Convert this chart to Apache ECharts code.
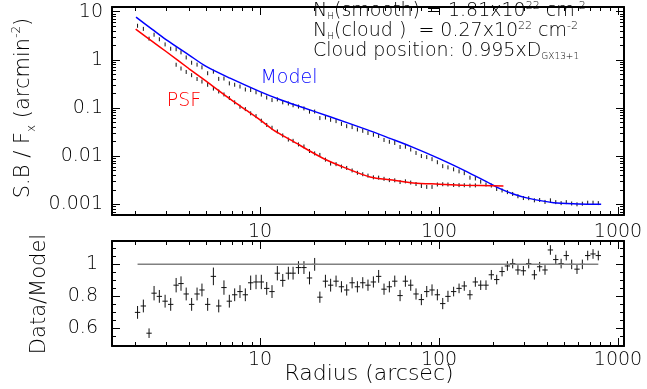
<!DOCTYPE html>
<html>
<head>
<meta charset="utf-8">
<script src="https://cdn.jsdelivr.net/npm/echarts@6/dist/echarts.min.js"></script>
<style>
  html, body { margin: 0; padding: 0; background: #fff; }
  #chart { width: 647px; height: 389px; }
</style>
</head>
<body>
<div id="chart"></div>
<script>
// radial bins (arcsec) and data/model ratio
var radius = [2.07, 2.23, 2.40, 2.56, 2.74, 2.95, 3.17, 3.40, 3.62, 3.87, 4.15, 4.45, 4.74, 5.10, 5.49, 5.88, 6.29, 6.74, 7.22, 7.73, 8.28, 8.87, 9.50, 10.17, 10.9, 11.67, 12.5,
  13.4, 14.4, 15.3, 16.4, 17.6, 18.9, 20.2, 21.6, 23.2, 24.8, 26.6, 28.5, 30.5, 32.7, 35.0, 37.5, 40.1, 43.0, 46.0, 49.3, 52.8, 56.6, 60.6, 64.9, 69.5, 74.4, 79.7, 85.4, 91.4, 97.9, 104.9, 112.2,
  120.7, 129.4, 138.4, 148.9, 159.6, 171, 183, 196, 210, 225, 241, 258, 276, 296, 317, 341, 365, 391, 419, 449, 481, 514, 551, 590, 632, 677, 725, 776];
var ratio = [0.70, 0.74, 0.57, 0.82, 0.80, 0.77, 0.75, 0.87, 0.88, 0.815, 0.75, 0.815, 0.84, 0.75, 0.925, 0.74, 0.855, 0.77, 0.81, 0.83, 0.81, 0.885, 0.89, 0.89, 0.85, 0.83, 0.945,
  0.90, 0.945, 0.945, 0.98, 0.98, 0.915, 1.0, 0.795, 0.895, 0.87, 0.895, 0.86, 0.84, 0.885, 0.86, 0.885, 0.87, 0.89, 0.925, 0.845, 0.86, 0.895, 0.805, 0.895, 0.87, 0.815, 0.78, 0.83, 0.84, 0.81, 0.755, 0.80,
  0.83, 0.85, 0.865, 0.81, 0.89, 0.87, 0.87, 0.935, 0.905, 0.955, 0.99, 1.005, 0.965, 0.96, 1.005, 0.935, 0.985, 0.965, 1.09, 1.03, 1.005, 1.055, 1.0, 0.97, 1.0, 1.055, 1.065, 1.055];
var ratioErr = [0.04, 0.04, 0.03, 0.045, 0.04, 0.04, 0.04, 0.045, 0.045, 0.04, 0.04, 0.04, 0.04, 0.04, 0.055, 0.04, 0.045, 0.04, 0.04, 0.04, 0.04, 0.045, 0.045, 0.045, 0.04, 0.04, 0.045,
  0.04, 0.04, 0.04, 0.04, 0.04, 0.04, 0.04, 0.035, 0.04, 0.04, 0.035, 0.035, 0.035, 0.035, 0.035, 0.035, 0.035, 0.035, 0.04, 0.035, 0.035, 0.035, 0.035, 0.035, 0.035, 0.035, 0.035, 0.035, 0.035, 0.035, 0.035, 0.035,
  0.03, 0.03, 0.03, 0.03, 0.03, 0.03, 0.03, 0.03, 0.03, 0.03, 0.03, 0.03, 0.03, 0.03, 0.03, 0.03, 0.03, 0.03, 0.03, 0.03, 0.03, 0.03, 0.03, 0.03, 0.03, 0.03, 0.03, 0.03];

// surface brightness of the source, same bins (upper panel dots)
var sbData = [5.1, 4.39, 2.75, 3.32, 2.67, 2.09, 1.70, 1.66, 1.43, 1.12, 0.87, 0.794, 0.698, 0.527, 0.568, 0.402, 0.409, 0.324, 0.304, 0.279, 0.242, 0.236, 0.212, 0.190, 0.165, 0.146, 0.151,
  0.131, 0.124, 0.114, 0.107, 0.098, 0.084, 0.0843, 0.0617, 0.0634, 0.0569, 0.0533, 0.0468, 0.0419, 0.0401, 0.0358, 0.0336, 0.0303, 0.0279, 0.0262, 0.0217, 0.0199, 0.0188, 0.0155, 0.0157, 0.01375, 0.01166, 0.01005, 0.00956, 0.00866, 0.00748, 0.0062, 0.00584,
  0.00533, 0.00484, 0.00444, 0.00357, 0.00344, 0.00295, 0.00258, 0.00245, 0.00208, 0.00194, 0.00179, 0.00164, 0.00147, 0.00135, 0.00134, 0.00121, 0.00123, 0.00112, 0.00121, 0.00111, 0.00106, 0.00111, 0.00104, 0.001, 0.00103, 0.00108, 0.00108, 0.00106];

// PSF profile points
var psfRadius = [3.40, 3.62, 3.87, 4.15, 4.45, 4.74, 5.10, 5.49, 5.88, 6.29, 6.74, 7.22, 7.73, 8.28, 8.87, 9.50, 10.17, 10.9, 11.67, 12.5,
  13.4, 14.4, 15.3, 16.4, 17.6, 18.9, 20.2, 21.6, 23.2, 24.8, 26.6, 28.5, 30.5, 32.7, 35.0, 37.5, 40.1, 43.0, 46.0, 49.3,
  52.8, 56.6, 60.6, 64.9, 69.5, 74.4, 79.7, 85.4, 91.4, 97.9, 104.9, 112.2, 120.7, 129.4, 138.4, 148.9, 159.6];
var psfData = [0.79, 0.66, 0.56, 0.48, 0.40, 0.354, 0.303, 0.253, 0.220, 0.191, 0.161, 0.131, 0.106, 0.0948, 0.0774, 0.0678, 0.0545, 0.0445, 0.0389, 0.0326,
  0.0269, 0.0221, 0.0208, 0.0175, 0.0159, 0.0128, 0.0114, 0.0106, 0.00847, 0.00701, 0.00682, 0.00608, 0.00569, 0.00505, 0.00451, 0.00421, 0.00394, 0.00363, 0.00358, 0.00338,
  0.00318, 0.00315, 0.0029, 0.0030, 0.00283, 0.00264, 0.0024, 0.0023, 0.0023, 0.00258, 0.00261, 0.00258, 0.00252, 0.0025, 0.00249, 0.00245, 0.00247];

// model curves
var modelRadius = [2.03, 2.5, 3, 4, 5, 6.8, 10, 13, 16.7, 24.6, 39.5, 53.2, 70, 101, 140, 184, 219, 260, 309, 436, 600, 805];
var modelValue = [7.7, 4.3, 2.6, 1.27, 0.73, 0.416, 0.219, 0.148, 0.107, 0.066, 0.0355, 0.0234, 0.0158, 0.0088, 0.00496, 0.00295, 0.00212, 0.00164, 0.00136, 0.00108, 0.00102, 0.001];
var psfModelRadius = [2.02, 2.5, 3, 4, 5, 6.8, 8.5, 10, 11.9, 15, 22.6, 30, 41.2, 55, 71.8, 100, 137, 229];
var psfModelValue = [4.35, 2.42, 1.47, 0.66, 0.36, 0.154, 0.0867, 0.0568, 0.0348, 0.0212, 0.00895, 0.0057, 0.0037, 0.00319, 0.00278, 0.00262, 0.00249, 0.0024];

// tick labels
var xLabels = [10, 100, 1000];
var sbLabels = [0.001, 0.01, 0.1, 1, 10];
var ratioLabels = [0.6, 0.8, 1];
var ratioMinor = [0.55, 0.65, 0.7, 0.75, 0.85, 0.9, 0.95, 1.05, 1.1];

var xMin = 1.49, xMax = 1080;
var sbMin = 0.0006, sbMax = 12.5;
var ratioMin = 0.49, ratioMax = 1.146;
var binHalf = Math.pow(10, 0.015);

var font = 'DejaVu Sans';
var ink = '#000';
var weight = 200;

function logMinor(lo, hi) {
  var out = [];
  for (var e = -4; e <= 3; e++) {
    for (var m = 2; m <= 9; m++) {
      var v = +(m * Math.pow(10, e)).toPrecision(3);
      if (v > lo && v < hi) out.push(v);
    }
  }
  return out;
}

function zip(a, b, c) {
  return a.map(function (v, i) { return c ? [v, b[i], c[i]] : [v, b[i]]; });
}

// one axis carries the frame line, minor ticks and labels, a twin carries the longer major ticks
function axisPair(grid, type, min, max, pos, labels, majors, minors, margin) {
  var base = {
    type: type, gridIndex: grid, min: min, max: max, position: pos,
    splitLine: { show: false }, axisPointer: { show: false }
  };
  if (type === 'log') base.logBase = 10;
  var a = Object.assign({}, base, {
    axisLine: { show: true, onZero: false, lineStyle: { color: '#000', width: 2 } },
    axisTick: { show: true, inside: true, length: 4, customValues: minors, lineStyle: { color: '#000', width: 1 } },
    axisLabel: labels ? {
      show: true, customValues: labels, margin: margin, fontFamily: font, fontSize: 19, fontWeight: weight, color: ink,
      formatter: function (v) { return String(v); }
    } : { show: false }
  });
  var b = Object.assign({}, base, {
    axisLine: { show: false },
    axisTick: { show: true, inside: true, length: 8, customValues: majors, lineStyle: { color: '#000', width: 1 } },
    axisLabel: { show: false }
  });
  return [a, b];
}

var xMinor = logMinor(xMin, xMax);
var sbMinor = logMinor(sbMin, sbMax);

var xAxes = [].concat(
  axisPair(0, 'log', xMin, xMax, 'bottom', xLabels, xLabels, xMinor, 8),
  axisPair(0, 'log', xMin, xMax, 'top', null, xLabels, xMinor),
  axisPair(1, 'log', xMin, xMax, 'bottom', xLabels, xLabels, xMinor, 5),
  axisPair(1, 'log', xMin, xMax, 'top', null, xLabels, xMinor)
);
var yAxes = [].concat(
  axisPair(0, 'log', sbMin, sbMax, 'left', sbLabels, sbLabels, sbMinor, 9),
  axisPair(0, 'log', sbMin, sbMax, 'right', null, sbLabels, sbMinor),
  axisPair(1, 'value', ratioMin, ratioMax, 'left', ratioLabels, ratioLabels, ratioMinor, 14),
  axisPair(1, 'value', ratioMin, ratioMax, 'right', null, ratioLabels, ratioMinor)
);

function dash(params, api) {
  var p = api.coord([api.value(0), api.value(1)]);
  return {
    type: 'line',
    shape: { x1: p[0], y1: p[1] - 2, x2: p[0], y2: p[1] + 2 },
    style: { stroke: '#111', lineWidth: 1 }
  };
}

function errBar(params, api) {
  var r = api.value(0), v = api.value(1), e = api.value(2);
  var hi = api.coord([r, v + e]), lo = api.coord([r, v - e]);
  var l = api.coord([r / binHalf, v]), rr = api.coord([r * binHalf, v]);
  var st = { stroke: '#111', lineWidth: 1 };
  return {
    type: 'group',
    children: [
      { type: 'line', shape: { x1: hi[0], y1: hi[1], x2: lo[0], y2: lo[1] }, style: st },
      { type: 'line', shape: { x1: l[0], y1: l[1], x2: rr[0], y2: rr[1] }, style: st }
    ]
  };
}

var chart = echarts.init(document.getElementById('chart'), null, { renderer: 'canvas' });

var titleRich = {
  t: { fontFamily: font, fontSize: 21, fontWeight: weight, color: ink, lineHeight: 27 },
  sub: { fontFamily: font, fontSize: 12, fontWeight: weight, color: ink, verticalAlign: 'bottom', lineHeight: 13 },
  sup: { fontFamily: font, fontSize: 12, fontWeight: weight, color: ink, verticalAlign: 'top', lineHeight: 13 }
};
var noteRich = {
  t: { fontFamily: font, fontSize: 19, fontWeight: weight, color: ink, lineHeight: 21 },
  sub: { fontFamily: font, fontSize: 9, fontWeight: weight, color: ink, verticalAlign: 'bottom', lineHeight: 9 },
  sup: { fontFamily: font, fontSize: 11, fontWeight: weight, color: ink, verticalAlign: 'top', lineHeight: 11 }
};

function note(x, y, text) {
  return { type: 'text', x: x, y: y, style: { text: text, rich: noteRich, align: 'left', verticalAlign: 'middle' } };
}

function label(x, y, text, size, color, rot) {
  return {
    type: 'text', x: x, y: y, rotation: rot || 0,
    style: { text: text, fontFamily: font, fontSize: size, fontWeight: weight, fill: color, align: 'center', verticalAlign: 'middle' }
  };
}

chart.setOption({
  animation: false,
  backgroundColor: '#fff',
  grid: [
    { left: 112, right: 23, top: 7, height: 208 },
    { left: 112, right: 23, top: 241, height: 105 }
  ],
  xAxis: xAxes,
  yAxis: yAxes,
  series: [
    {
      type: 'line', xAxisIndex: 0, yAxisIndex: 0, data: zip(modelRadius, modelValue),
      symbol: 'none', smooth: 0.3, lineStyle: { color: '#0000ff', width: 1.5 }
    },
    {
      type: 'line', xAxisIndex: 0, yAxisIndex: 0, data: zip(psfModelRadius, psfModelValue),
      symbol: 'none', smooth: 0.3, lineStyle: { color: '#ff0000', width: 1.5 }
    },
    {
      type: 'custom', xAxisIndex: 0, yAxisIndex: 0, data: zip(radius, sbData),
      encode: { x: 0, y: 1 }, renderItem: dash
    },
    {
      type: 'custom', xAxisIndex: 0, yAxisIndex: 0, data: zip(psfRadius, psfData),
      encode: { x: 0, y: 1 }, renderItem: dash
    },
    {
      type: 'line', xAxisIndex: 4, yAxisIndex: 4,
      data: [[radius[0], 1], [radius[radius.length - 1], 1]],
      symbol: 'none', lineStyle: { color: '#808080', width: 1.5 }
    },
    {
      type: 'custom', xAxisIndex: 4, yAxisIndex: 4, data: zip(radius, ratio, ratioErr),
      encode: { x: 0, y: 1 }, renderItem: errBar
    }
  ],
  graphic: [
    {
      type: 'text', x: 24, y: 108, rotation: Math.PI / 2,
      style: { text: '{t|S.B / F}{sub|x}{t| (arcmin}{sup|-2}{t|)}', rich: titleRich, align: 'center', verticalAlign: 'middle' }
    },
    label(40, 294, 'Data/Model', 21, ink, Math.PI / 2),
    label(369, 374, 'Radius (arcsec)', 22, ink),
    note(313, 11, '{t|N}{sub|H}{t|(smooth) = 1.81x10}{sup|22}{t| cm}{sup|-2}'),
    note(313, 31, '{t|N}{sub|H}{t|(cloud )  = 0.27x10}{sup|22}{t| cm}{sup|-2}'),
    note(313, 51, '{t|Cloud position: 0.995xD}{sub|GX13+1}'),
    label(289, 78, 'Model', 19, '#0000ff'),
    label(184, 101, 'PSF', 19, '#ff0000')
  ]
});
</script>
</body>
</html>
